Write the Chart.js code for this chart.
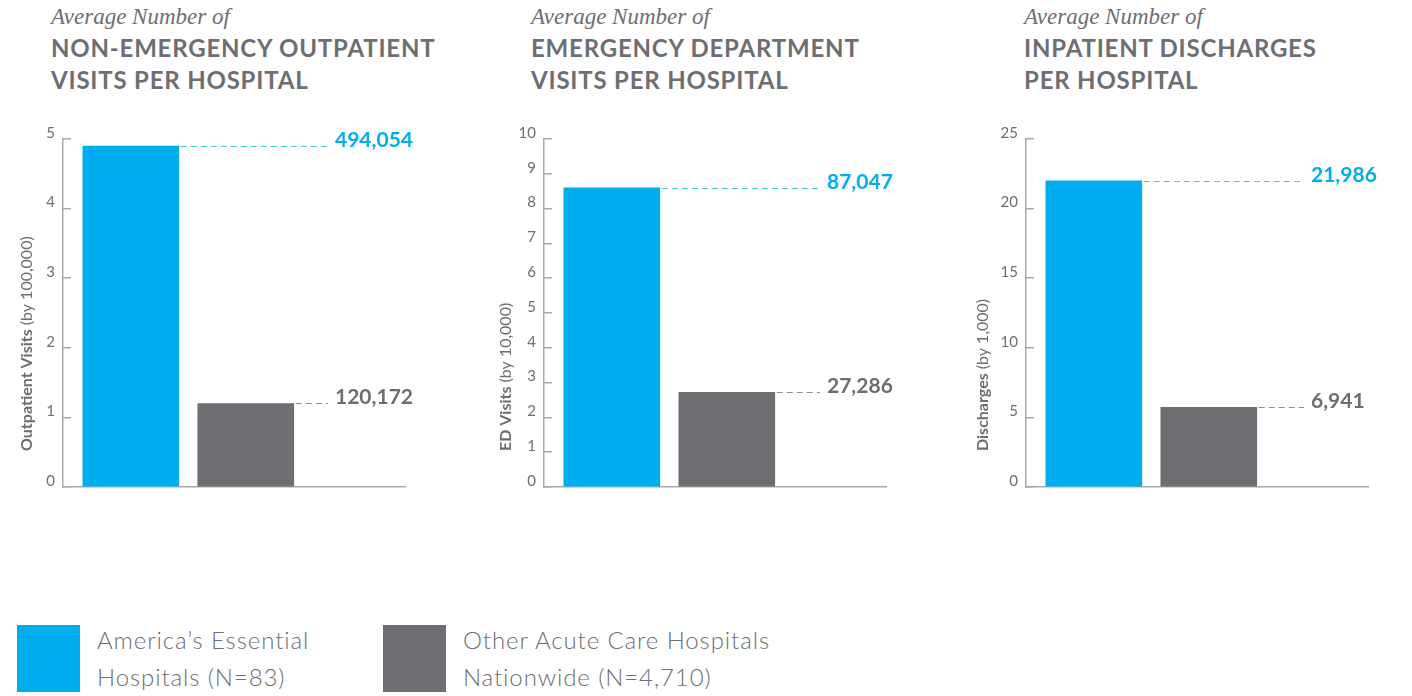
<!DOCTYPE html>
<html>
<head>
<meta charset="utf-8">
<script src="https://cdn.jsdelivr.net/npm/chart.js@4.4.0/dist/chart.umd.min.js"></script>
<style>
  body { margin: 0; width: 1412px; height: 696px; background: #fff; overflow: hidden; position: relative; color: #6d6e71; font-family: Lato, sans-serif; }
  .kicker { position: absolute; top: 5px; font: italic 23px/24px 'Liberation Serif', serif; white-space: nowrap; }
  .title { position: absolute; top: 32px; font: bold 24px/32px Lato, sans-serif; letter-spacing: 0.8px; white-space: nowrap; }
  .plot { position: absolute; top: 100px; width: 430px; height: 412px; }
  .swatch { position: absolute; top: 625px; width: 63px; height: 67px; }
  .key { position: absolute; top: 621px; font: 300 24px/37px Lato, sans-serif; letter-spacing: 0.9px; white-space: nowrap; }
</style>
</head>
<body>
  <div class="kicker" style="left:51px">Average Number of</div>
  <div class="title" style="left:51px">NON-EMERGENCY OUTPATIENT<br>VISITS PER HOSPITAL</div>
  <div class="kicker" style="left:531px">Average Number of</div>
  <div class="title" style="left:531px">EMERGENCY DEPARTMENT<br>VISITS PER HOSPITAL</div>
  <div class="kicker" style="left:1024px">Average Number of</div>
  <div class="title" style="left:1024px">INPATIENT DISCHARGES<br>PER HOSPITAL</div>

  <div class="plot" style="left:0px"><canvas id="outpatient" width="430" height="412"></canvas></div>
  <div class="plot" style="left:481px"><canvas id="ed" width="430" height="412"></canvas></div>
  <div class="plot" style="left:963px"><canvas id="discharges" width="430" height="412"></canvas></div>

  <div class="swatch" style="left:17px;background:#00aeef"></div>
  <div class="key" style="left:97px">America’s Essential<br>Hospitals (N=83)</div>
  <div class="swatch" style="left:383px;background:#6d6e71"></div>
  <div class="key" style="left:463px">Other Acute Care Hospitals<br>Nationwide (N=4,710)</div>

<script>
(() => {
  'use strict';
  // hospital groups, same order in every chart
  const GROUPS = ['America’s Essential Hospitals (N=83)', 'Other Acute Care Hospitals Nationwide (N=4,710)'];
  const BAR_COLORS = ['#00aeef', '#6d6e71'];
  const LEADER_COLORS = ['#45c2f1', '#8e8f92'];
  const INK = '#6d6e71', AXIS = '#a7a9ac';

  // bar heights as drawn (axis units), value labels as printed
  const OUTPATIENT_VALUES = [4.9, 1.2];
  const OUTPATIENT_LABELS = ['494,054', '120,172'];
  const OUTPATIENT_TICKS = [0, 1, 2, 3, 4, 5];

  const ED_VALUES = [8.6, 2.72];
  const ED_LABELS = ['87,047', '27,286'];
  const ED_TICKS = [0, 1, 2, 3, 4, 5, 6, 7, 8, 9, 10];

  const DISCHARGE_VALUES = [22.0, 5.73];
  const DISCHARGE_LABELS = ['21,986', '6,941'];
  const DISCHARGE_TICKS = [0, 5, 10, 15, 20, 25];

  const $ = id => document.getElementById(id);

  const leaderLabels = {
    id: 'leaderLabels',
    afterDatasetsDraw(chart, args, opts) {
      const ctx = chart.ctx;
      const textX = chart.chartArea.left + opts.offset;
      chart.getDatasetMeta(0).data.forEach((bar, i) => {
        const right = bar.x + bar.width / 2, y = Math.round(bar.y) + 0.5;
        ctx.save();
        ctx.strokeStyle = LEADER_COLORS[i]; ctx.lineWidth = 1; ctx.setLineDash([6, 4]);
        ctx.beginPath(); ctx.moveTo(right + 2, y); ctx.lineTo(textX - 7, y); ctx.stroke();
        ctx.setLineDash([]);
        ctx.fillStyle = BAR_COLORS[i]; ctx.font = 'bold 21px Lato'; ctx.textBaseline = 'alphabetic';
        ctx.fillText(opts.labels[i], textX, y + 0.5);
        ctx.restore();
      });
    }
  };

  // rotated y-axis title: bold name + regular unit
  const sideTitle = {
    id: 'sideTitle',
    afterDraw(chart, args, opts) {
      const ctx = chart.ctx;
      ctx.save();
      ctx.translate(chart.chartArea.left - opts.offset, chart.chartArea.bottom - 36);
      ctx.rotate(-Math.PI / 2);
      ctx.fillStyle = INK; ctx.textBaseline = 'middle';
      ctx.font = 'bold 16px Lato';
      ctx.fillText(opts.bold, 0, 0);
      const w = ctx.measureText(opts.bold).width + 4;
      ctx.font = '16px Lato';
      ctx.fillText(opts.light, w, 0);
      ctx.restore();
    }
  };

  function makeChart(id, values, labels, ticks, axisBold, axisLight, labelOffset, titleOffset) {
    return new Chart($(id), {
      type: 'bar',
      data: {
        datasets: [{
          label: 'Average per hospital',
          data: values.map((v, i) => ({ x: i, y: v })),
          backgroundColor: BAR_COLORS,
          borderWidth: 0,
          barThickness: 96
        }]
      },
      options: {
        responsive: false, animation: false,
        layout: { padding: { left: 23, top: 39, right: 25, bottom: 0 } },
        plugins: {
          legend: { display: false }, tooltip: { enabled: false },
          leaderLabels: { labels, offset: labelOffset },
          sideTitle: { bold: axisBold, light: axisLight, offset: titleOffset }
        },
        scales: {
          x: {
            type: 'linear', min: -0.59, max: 2.385, offset: false,
            grid: { display: false }, ticks: { display: false },
            border: { color: AXIS, width: 1.5 },
            afterFit: s => { s.height = 0; }
          },
          y: {
            min: 0, max: ticks.at(-1),
            afterBuildTicks: s => { s.ticks = ticks.map(value => ({ value })); },
            grid: { drawOnChartArea: false, drawTicks: true, tickLength: -8, color: AXIS, lineWidth: 1.5 },
            border: { color: AXIS, width: 1.5 },
            ticks: { padding: 16, labelOffset: -6, color: INK, font: { family: 'Lato', size: 15 } },
            afterFit: s => { s.width = 40; }
          }
        }
      },
      plugins: [leaderLabels, sideTitle]
    });
  }

  makeChart('outpatient', OUTPATIENT_VALUES, OUTPATIENT_LABELS, OUTPATIENT_TICKS, 'Outpatient Visits', '(by 100,000)', 272, 36);
  makeChart('ed', ED_VALUES, ED_LABELS, ED_TICKS, 'ED Visits', '(by 10,000)', 283, 38);
  makeChart('discharges', DISCHARGE_VALUES, DISCHARGE_LABELS, DISCHARGE_TICKS, 'Discharges', '(by 1,000)', 285, 43);
})();
</script>
</body>
</html>
